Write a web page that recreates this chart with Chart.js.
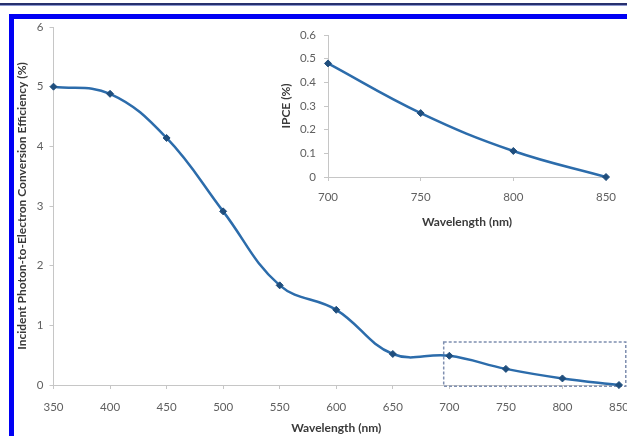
<!DOCTYPE html>
<html>
<head>
<meta charset="utf-8">
<script src="https://cdn.jsdelivr.net/npm/chart.js@4.4.1/dist/chart.umd.min.js"></script>
<style>
  html, body { margin: 0; padding: 0; background: #fff; overflow: hidden; width: 627px; height: 436px; }
  #wrap { position: relative; width: 627px; height: 436px; overflow: hidden; }
  #topLine { position: absolute; left: 0; top: 3px; width: 627px; height: 2px; background: #27306e; border-bottom: 1px solid #8c98d0; }
  #frame { position: absolute; left: 9px; top: 14px; width: 640px; height: 420px; border-left: 5px solid #0000f4; border-top: 5px solid #0000f4; border-bottom: 1px solid #a0a0f0; }
  #mainChart { position: absolute; left: 0; top: 0; }
  #insetChart { position: absolute; left: 270px; top: 0; }
</style>
</head>
<body>
<div id="wrap">
  <div id="topLine"></div>
  <div id="frame"></div>
  <canvas id="mainChart" width="640" height="436"></canvas>
  <canvas id="insetChart" width="360" height="240"></canvas>
</div>
<script>
  // Datos de la grafica principal
  var wavelengths = [350, 400, 450, 500, 550, 600, 650, 700, 750, 800, 850];
  var ipce = [5.0, 4.88, 4.14, 2.91, 1.67, 1.26, 0.52, 0.49, 0.27, 0.11, 0.0];
  var mainXTicks = [350, 400, 450, 500, 550, 600, 650, 700, 750, 800, 850];
  var mainYTicks = [0, 1, 2, 3, 4, 5, 6];

  // Datos del recuadro (zoom 700-850 nm)
  var insetWavelengths = [700, 750, 800, 850];
  var insetIpce = [0.48, 0.27, 0.11, 0.0];
  var insetXTicks = [700, 750, 800, 850];
  var insetYTicks = [0, 0.1, 0.2, 0.3, 0.4, 0.5, 0.6];

  // Zona marcada con linea discontinua (en unidades de los ejes)
  var zoomBoxX = [695, 856];
  var zoomBoxY = [-0.02, 0.72];

  var lineColor = '#2c6cab';
  var markerColor = '#1f4e7d';
  var axisColor = '#c6c6c6';
  var tickFont = { family: 'Lato', size: 11.5 };
  var titleFont = { family: 'Lato', size: 12, weight: 'bold' };

  function toPoints(xs, ys) {
    return xs.map(function (x, i) { return { x: x, y: ys[i] }; });
  }

  function fixedTicks(values) {
    return function (scale) {
      scale.ticks = values.map(function (v) { return { value: v }; });
    };
  }

  function dataset(xs, ys) {
    return {
      data: toPoints(xs, ys),
      borderColor: lineColor,
      borderWidth: 2.5,
      tension: 0.4,
      pointStyle: 'rectRot',
      pointRadius: 3.5,
      pointBackgroundColor: markerColor,
      pointBorderColor: markerColor,
      pointBorderWidth: 1,
      clip: false
    };
  }

  function axis(opts) {
    return {
      type: 'linear',
      min: opts.min,
      max: opts.max,
      afterBuildTicks: fixedTicks(opts.ticks),
      afterFit: opts.fit,
      grid: { drawOnChartArea: false, tickLength: 4, color: axisColor },
      border: { color: axisColor, width: 1 },
      ticks: { padding: opts.padding, color: '#606060', font: tickFont, maxRotation: 0, autoSkip: false },
      title: { display: true, text: opts.title, color: '#3a3a3a', font: titleFont, padding: opts.titlePadding }
    };
  }

  // Dibuja el recuadro discontinuo con las escalas de la grafica
  var zoomBoxPlugin = {
    id: 'zoomBox',
    beforeDatasetsDraw: function (chart) {
      var ctx = chart.ctx;
      var x = chart.scales.x, y = chart.scales.y;
      var x0 = x.getPixelForValue(zoomBoxX[0]), x1 = x.getPixelForValue(zoomBoxX[1]);
      var y0 = y.getPixelForValue(zoomBoxY[1]), y1 = y.getPixelForValue(zoomBoxY[0]);
      ctx.save();
      ctx.setLineDash([3, 2]);
      ctx.lineWidth = 1.5;
      ctx.strokeStyle = '#7f8fb0';
      ctx.strokeRect(x0, y0, x1 - x0, y1 - y0);
      ctx.restore();
    }
  };

  var mainChart = new Chart(document.getElementById('mainChart'), {
    type: 'line',
    data: { datasets: [dataset(wavelengths, ipce)] },
    options: {
      responsive: false,
      animation: false,
      devicePixelRatio: 1,
      layout: { padding: { left: 10, right: 20, top: 27, bottom: 0 } },
      plugins: { legend: { display: false }, tooltip: { enabled: false } },
      scales: {
        x: axis({ min: 350, max: 850, ticks: mainXTicks, padding: 11, title: 'Wavelength (nm)',
          titlePadding: { top: 0, bottom: 1 }, fit: function (s) { s.height = 51; } }),
        y: axis({ min: 0, max: 6, ticks: mainYTicks, padding: 6,
          title: 'Incident Photon-to-Electron Conversion Efficiency (%)',
          titlePadding: { top: 5, bottom: 0 }, fit: function (s) { s.width = 43.5; } })
      }
    },
    plugins: [zoomBoxPlugin]
  });

  var insetChart = new Chart(document.getElementById('insetChart'), {
    type: 'line',
    data: { datasets: [dataset(insetWavelengths, insetIpce)] },
    options: {
      responsive: false,
      animation: false,
      devicePixelRatio: 1,
      layout: { padding: { left: 4, right: 24, top: 35, bottom: 11 } },
      plugins: { legend: { display: false }, tooltip: { enabled: false } },
      scales: {
        x: axis({ min: 700, max: 850, ticks: insetXTicks, padding: 9, title: 'Wavelength (nm)',
          titlePadding: { top: 0, bottom: 0 }, fit: function (s) { s.height = 52; } }),
        y: axis({ min: 0, max: 0.6, ticks: insetYTicks, padding: 8, title: 'IPCE (%)',
          titlePadding: { top: 5, bottom: 0 }, fit: function (s) { s.width = 54; } })
      }
    }
  });
</script>
</body>
</html>
